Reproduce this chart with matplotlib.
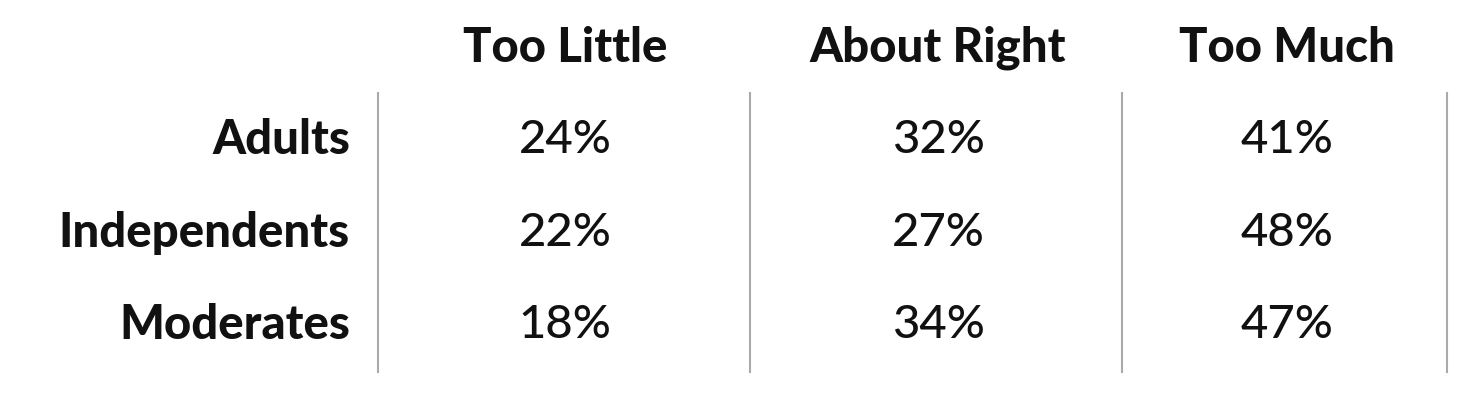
import matplotlib
matplotlib.use("Agg")
import matplotlib.pyplot as plt

columns = ["Too Little", "About Right", "Too Much"]
rows = ["Adults", "Independents", "Moderates"]
values = [[24, 32, 41], [22, 27, 48], [18, 34, 47]]

plt.rcParams['font.family'] = ['Lato', 'DejaVu Sans']
fig = plt.figure(figsize=(14.8, 4), dpi=100)
ax = fig.add_axes([0, 0, 1, 1])
ax.set_xlim(0, 1480)
ax.set_ylim(400, 0)
ax.axis('off')

col_x = [565, 938, 1287]
row_y = [140, 233, 325]
for x in [378, 750, 1122, 1447]:
    ax.plot([x, x], [93, 372], color='#aaaaaa', lw=1.5)
for cx, c in zip(col_x, columns):
    ax.text(cx, 48, c, ha='center', va='center', fontsize=34, fontweight='black', color='#111111')
for ry, r, vals in zip(row_y, rows, values):
    ax.text(350, ry, r, ha='right', va='center', fontsize=34, fontweight='black', color='#111111')
    for cx, v in zip(col_x, vals):
        ax.text(cx, ry, f"{v}%", ha='center', va='center', fontsize=34, fontweight='medium', color='#111111')

fig.savefig("out.png", dpi=100, facecolor='white')
